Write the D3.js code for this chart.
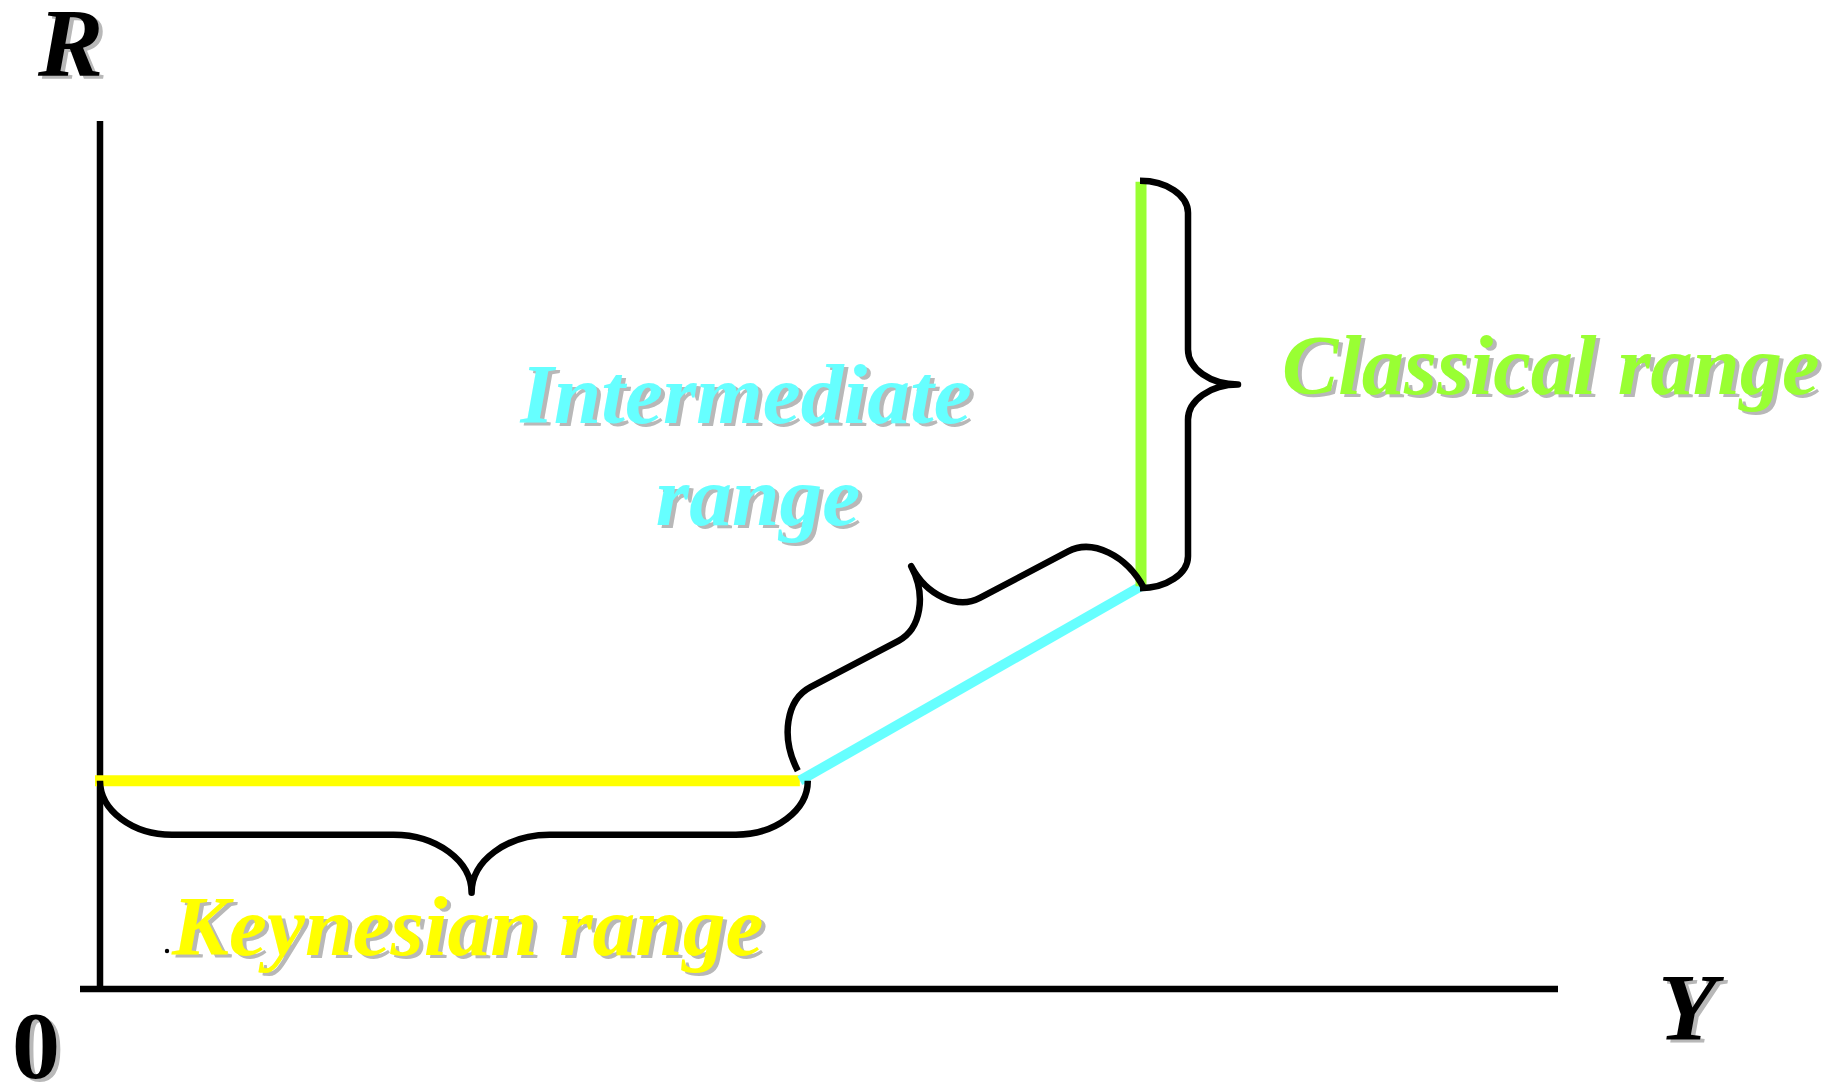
<!DOCTYPE html>
<html>
<head>
<meta charset="utf-8">
<script src="https://cdn.jsdelivr.net/npm/d3@7"></script>
<style>
  html, body { margin: 0; padding: 0; background: #ffffff; }
  svg { display: block; }
</style>
</head>
<body>
<svg id="chart" width="1847" height="1083"></svg>
<script>
// ---- data ----
const segmentNames = ["Keynesian range", "Intermediate range", "Classical range"];
const outputY   = [0, 48, 71.4, 71.4];   // Y at kink points
const interestR = [24, 24, 46.4, 93];    // R at kink points
const axisTitles = ["Y", "R", "0"];

// ---- styles ----
const segColors = ["#ffff00", "#66ffff", "#99ff33"];
const shadow = "#b8b8b8";
const labelFont = "'Liberation Serif', 'Times New Roman', serif";

const svg = d3.select("#chart");
const x = d3.scaleLinear().domain([0, 100]).range([100, 1558]);
const y = d3.scaleLinear().domain([0, 100]).range([989, 121]);

// axes
svg.append("line").attr("x1", x(0)).attr("x2", x(0)).attr("y1", y(100)).attr("y2", y(0) + 3)
  .attr("stroke", "#000").attr("stroke-width", 6.5);
svg.append("line").attr("x1", x(0) - 20).attr("x2", x(100)).attr("y1", y(0)).attr("y2", y(0))
  .attr("stroke", "#000").attr("stroke-width", 6.5);

// segments
for (let i = 0; i < 3; i++) {
  const ext = i === 0 ? 5 : 0;
  svg.append("line")
    .attr("x1", x(outputY[i]) - ext).attr("y1", y(interestR[i]))
    .attr("x2", x(outputY[i + 1])).attr("y2", y(interestR[i + 1]))
    .attr("stroke", segColors[i]).attr("stroke-width", i === 1 ? 10 : 11);
}

// brace generator: p1->p2, side sign, depth d1, tip depth d2, end radius r, tip radius r2, tip fraction
function brace(p1, p2, side, d1, d2, r, r2, tf) {
  const dx = p2[0] - p1[0], dy = p2[1] - p1[1];
  const L = Math.hypot(dx, dy);
  const u = [dx / L, dy / L];
  const n = [-u[1] * side, u[0] * side];
  const P = (s, t) => [p1[0] + u[0] * s + n[0] * t, p1[1] + u[1] * s + n[1] * t].map(v => v.toFixed(1)).join(",");
  const k = 0.55, tip = L * tf;
  return [
    "M", P(0, 0),
    "C", P(0, d1 * k), P(r * (1 - k), d1), P(r, d1),
    "L", P(tip - r2, d1),
    "C", P(tip - r2 * (1 - k), d1), P(tip, d1 + (d2 - d1) * (1 - k)), P(tip, d2),
    "C", P(tip, d1 + (d2 - d1) * (1 - k)), P(tip + r2 * (1 - k), d1), P(tip + r2, d1),
    "L", P(L - r, d1),
    "C", P(L - r * (1 - k), d1), P(L, d1 * k), P(L, 0)
  ].join(" ");
}
const pts = outputY.map((v, i) => [x(v), y(interestR[i])]);
const braceSpecs = [
  { a: pts[0], b: [pts[1][0] + 8, pts[1][1]], side: 1, d1: 54, d2: 112, r: 72, r2: 78, tf: 0.525 },
  { a: [pts[1][0] - 2, pts[1][1] - 10], b: [pts[2][0] + 3, pts[2][1] + 2], side: -1, d1: 68, d2: 128, r: 50, r2: 46, tf: 0.5 },
  { a: [pts[3][0] - 1, pts[3][1] - 1], b: [pts[2][0] - 1, pts[2][1] + 2], side: -1, d1: 48, d2: 98, r: 32, r2: 35, tf: 0.5 }
];
braceSpecs.forEach(b => {
  svg.append("path").attr("d", brace(b.a, b.b, b.side, b.d1, b.d2, b.r, b.r2, b.tf))
    .attr("fill", "none").attr("stroke", "#000").attr("stroke-width", 6.5)
    .attr("stroke-linecap", "butt").attr("stroke-linejoin", "round");
});

// text with drop shadow
function shadowText(lines, px, py, color, size, anchor, italic, lineGap) {
  [[4, 3, shadow], [0, 0, color]].forEach(([ox, oy, c]) => {
    lines.forEach((ln, j) => {
      const xx = Array.isArray(px) ? px[j] : px;
      svg.append("text")
        .attr("x", xx + ox).attr("y", py + oy + j * (lineGap || 0))
        .attr("fill", c)
        .attr("font-family", labelFont)
        .attr("font-weight", "bold")
        .attr("font-style", italic ? "italic" : "normal")
        .attr("font-size", size)
        .attr("text-anchor", anchor)
        .text(ln);
    });
  });
}

// range labels
shadowText([segmentNames[0]], 172, 955, segColors[0], 85.5, "start", true);
shadowText(["Intermediate", "range"], [746, 758], 423, segColors[1], 85.5, "middle", true, 102);
shadowText([segmentNames[2]], 1282, 394, segColors[2], 84.5, "start", true);

// axis titles
shadowText([axisTitles[1]], 38, 76, "#000", 98, "start", true);
shadowText([axisTitles[0]], 1658, 1040, "#000", 96, "start", true);
shadowText([axisTitles[2]], 12, 1078, "#000", 96, "start", false);

// tiny stray dot
svg.append("circle").attr("cx", 167).attr("cy", 951).attr("r", 2.2).attr("fill", "#000");
</script>
</body>
</html>
